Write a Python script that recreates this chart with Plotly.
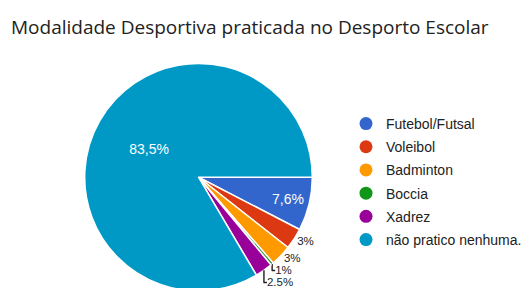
import plotly.graph_objects as go

categories = ["Futebol/Futsal", "Voleibol", "Badminton", "Boccia", "Xadrez", "não pratico nenhuma."]
values = [7.6, 3.0, 3.0, 0.4, 2.5, 83.5]
value_labels = ["7,6%", "3%", "3%", "1%", "2.5%", "83,5%"]
colors = ["#3366cc", "#dc3912", "#ff9900", "#109618", "#990099", "#0099c6"]
title_text = "Modalidade Desportiva praticada no Desporto Escolar"

W, H = 530, 288
fig = go.Figure()

positions = ["inside" if v > 5 else "outside" for v in values]

fig.add_trace(go.Pie(
    labels=categories,
    values=values,
    text=value_labels,
    textinfo="text",
    textposition=positions,
    insidetextorientation="horizontal",
    sort=False,
    direction="clockwise",
    rotation=90,
    marker=dict(colors=colors, line=dict(color="white", width=1.5)),
    insidetextfont=dict(color="white", size=14, family="Liberation Sans, Arial"),
    outsidetextfont=dict(color="#222222", size=11.5, family="Liberation Sans, Arial"),
    domain=dict(x=[75.5 / W, 305.5 / W], y=[(H - 286) / H, (H - 56) / H]),
    showlegend=False,
    hoverinfo="label+percent",
))

for i, (c, col) in enumerate(zip(categories, colors)):
    fig.add_trace(go.Scatter(
        x=[None], y=[None], mode="markers", name=c,
        marker=dict(symbol="circle", size=13, color=col),
        legendgroup=str(i), showlegend=True,
    ))

fig.update_xaxes(visible=False)
fig.update_yaxes(visible=False)

fig.update_layout(
    width=W, height=H,
    margin=dict(l=0, r=0, t=0, b=0),
    paper_bgcolor="white",
    plot_bgcolor="white",
    title=dict(
        text=title_text,
        x=3 / W, xanchor="left",
        y=1 - 19 / H, yanchor="middle",
        font=dict(size=19, color="#222222", family="Open Sans, Noto Sans"),
    ),
    legend=dict(
        x=338 / W, xanchor="left",
        y=1 - 101 / H, yanchor="top",
        font=dict(size=14, color="#222222", family="Liberation Sans, Arial"),
        tracegroupgap=2,
        bgcolor="rgba(0,0,0,0)",
        itemwidth=30,
    ),
)

fig.write_html("out.html")
